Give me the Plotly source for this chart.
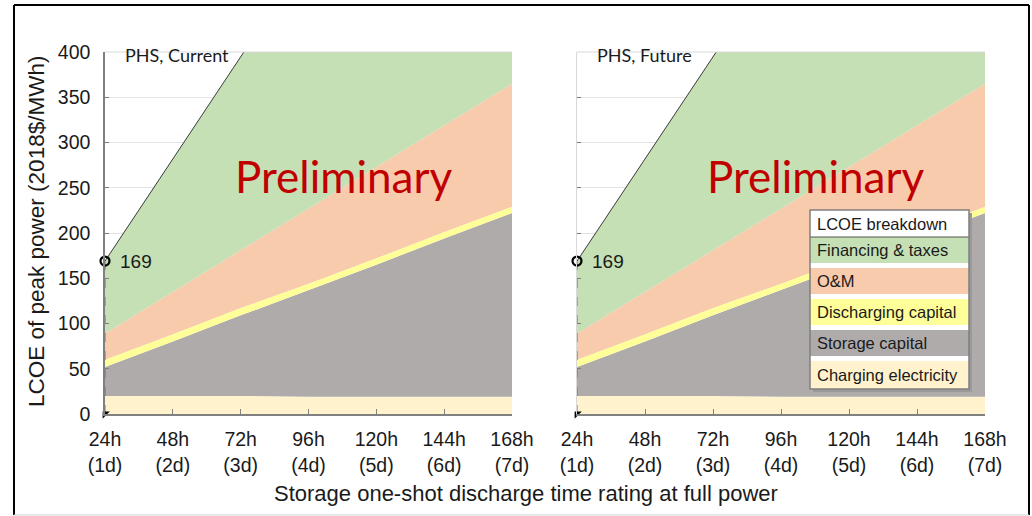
import numpy as np
import plotly.graph_objects as go

# discharge duration (hours) on the x axis
hours = [24, 48, 72, 96, 120, 144, 168]
tick_text = ["24h<br>(1d)", "48h<br>(2d)", "72h<br>(3d)", "96h<br>(4d)",
             "120h<br>(5d)", "144h<br>(6d)", "168h<br>(7d)"]

# LCOE components, 2018$/MWh (both panels look the same)
charging_electricity = [20, 20, 20, 19, 19, 19, 19]
storage_capital = [32, 60, 89, 118, 146, 175, 203]
discharging_capital = [8, 8, 8, 7, 7, 7, 7]
om_cost = [29, 47, 64, 83, 101, 118, 136]
financing_taxes = [80, 147, 214, 281, 348, 415, 481]

panel_titles = ["PHS, Current", "PHS, Future"]

# bottom -> top stacking order
layers = [
    ("Charging electricity", charging_electricity, "#FFF2CC"),
    ("Storage capital", storage_capital, "#AFABAB"),
    ("Discharging capital", discharging_capital, "#FFFF99"),
    ("O&M", om_cost, "#F8CBAD"),
    ("Financing & taxes", financing_taxes, "#C5E0B4"),
]

total = np.sum([v for _, v, _ in layers], axis=0)

W, H = 1032, 516
L, R, T, B = 105, 47, 52, 102
PW, PH = W - L - R, H - T - B


def px(x):
    return (x - L) / PW


def py(y):
    return (H - B - y) / PH


fig = go.Figure()

for i, sfx in enumerate(["", "2"]):
    xa, ya = "x" + sfx, "y" + sfx
    for j, (name, vals, col) in enumerate(layers):
        top = j == len(layers) - 1
        fig.add_trace(go.Scatter(
            x=hours, y=vals, name=name, stackgroup="s" + str(i),
            mode="lines", fillcolor=col,
            line=dict(width=1 if top else 0, color="#3a3a3a" if top else col),
            xaxis=xa, yaxis=ya, showlegend=False, hoverinfo="skip"))
    # dashed drop line from the 1-day value
    fig.add_trace(go.Scatter(
        x=[hours[0], hours[0]], y=[0, total[0]], mode="lines",
        line=dict(color="#6f6f6f", width=1, dash="dash"),
        xaxis=xa, yaxis=ya, showlegend=False, cliponaxis=False))
    fig.add_trace(go.Scatter(
        x=[hours[0]], y=[total[0]], mode="markers",
        marker=dict(symbol="circle-open", size=9, color="black",
                    line=dict(width=2.2, color="black")),
        xaxis=xa, yaxis=ya, showlegend=False, cliponaxis=False))
    fig.add_trace(go.Scatter(
        x=[hours[0]], y=[0], mode="markers",
        marker=dict(symbol="triangle-nw", size=8, color="black"),
        xaxis=xa, yaxis=ya, showlegend=False, cliponaxis=False))
    fig.add_annotation(x=hours[0], y=total[0], xref=xa, yref=ya,
                       text=str(int(total[0])), showarrow=False,
                       xanchor="left", yanchor="middle", xshift=13,
                       font=dict(family="Liberation Sans", size=19, color="#1a1a1a"))

tickfont = dict(family="Liberation Sans", size=19.5, color="#1a1a1a")
xcommon = dict(range=[24, 168], tickmode="array", tickvals=hours, ticktext=tick_text,
               ticks="inside", ticklen=5, tickcolor="#808080", showgrid=False,
               zeroline=False, showline=True, linecolor="#808080", linewidth=1.5,
               tickfont=tickfont, ticklabelstandoff=7)
ycommon = dict(range=[0, 400], dtick=50, showgrid=True, gridcolor="#e3e3e3",
               zeroline=False, showline=True, ticks="inside", ticklen=4,
               tickcolor="#808080", tickfont=tickfont)

fig.update_layout(
    width=W, height=H,
    margin=dict(l=L, r=R, t=T, b=B),
    paper_bgcolor="white", plot_bgcolor="white",
    xaxis=dict(domain=[0, px(512)], anchor="y", **xcommon),
    yaxis=dict(domain=[0, 1], anchor="x", linecolor="#808080", linewidth=1.5,
               ticklabelstandoff=9, **ycommon),
    xaxis2=dict(domain=[px(577), 1], anchor="y2", **xcommon),
    yaxis2=dict(domain=[0, 1], anchor="x2", linecolor="#d9d9d9", linewidth=1,
                showticklabels=False, **ycommon),
)

shapes = []
# panel titles, top border and watermark
for k, xa in enumerate(["x", "x2"]):
    shapes.append(dict(type="line", xref=xa + " domain", yref="paper", x0=0, x1=1, y0=1, y1=1,
                       line=dict(color="#d9d9d9", width=1)))
    fig.add_annotation(x=0.045, y=py(55), xref=xa + " domain", yref="paper",
                       text=panel_titles[k], showarrow=False, xanchor="left", yanchor="middle",
                       font=dict(family="Lato", size=18, color="#1a1a1a"))
    fig.add_annotation(x=0.585, y=py(176), xref=xa + " domain", yref="paper",
                       text="Preliminary", showarrow=False, xanchor="center", yanchor="middle",
                       font=dict(family="Lato", size=44, color="#C00000"))

# axis titles
fig.add_annotation(x=px(37), y=py(232), xref="paper", yref="paper",
                   text="LCOE of peak power (2018$/MWh)", textangle=-90, showarrow=False,
                   xanchor="center", yanchor="middle",
                   font=dict(family="Liberation Sans", size=22.5, color="#1a1a1a"))
fig.add_annotation(x=px(526), y=py(494), xref="paper", yref="paper",
                   text="Storage one-shot discharge time rating at full power",
                   showarrow=False, xanchor="center", yanchor="middle",
                   font=dict(family="Liberation Sans", size=22, color="#1a1a1a"))

# legend box drawn by hand: title row, then one coloured row per component
lx0, lx1, ly0 = px(810), px(969), 210
legfont = dict(family="Liberation Sans", size=16.5, color="#1a1a1a")
shapes += [
    dict(type="rect", xref="paper", yref="paper", x0=lx0 + 3 / PW, x1=lx1 + 3 / PW,
         y0=py(392), y1=py(213), fillcolor="#9a9a9a", line=dict(width=0)),
    dict(type="rect", xref="paper", yref="paper", x0=lx0, x1=lx1,
         y0=py(389), y1=py(ly0), fillcolor="white", line=dict(width=0)),
]
fig.add_annotation(x=lx0 + 5 / PW, y=py(224), xref="paper", yref="paper",
                   text="LCOE breakdown", showarrow=False, xanchor="left", yanchor="middle",
                   font=legfont)
for r, (name, _, col) in enumerate(layers[::-1]):
    top = 237 + 31 * r
    bot = top + (28 if r == len(layers) - 1 else 26)
    shapes.append(dict(type="rect", xref="paper", yref="paper", x0=lx0, x1=lx1,
                       y0=py(bot), y1=py(top), fillcolor=col, line=dict(width=0)))
    fig.add_annotation(x=lx0 + 5 / PW, y=py((top + bot) / 2), xref="paper", yref="paper",
                       text=name, showarrow=False, xanchor="left", yanchor="middle",
                       font=legfont)
shapes += [
    dict(type="line", xref="paper", yref="paper", x0=lx0, x1=lx1, y0=py(237), y1=py(237),
         line=dict(color="#555555", width=1)),
    dict(type="rect", xref="paper", yref="paper", x0=lx0, x1=lx1,
         y0=py(389), y1=py(ly0), line=dict(color="#7f7f7f", width=1.5)),
]

# outer frame of the slide
fx0, fx1, fy0, fy1 = px(14), px(1029), py(515), py(5)
for x0, y0, x1, y1, c in [(fx0, fy0, fx0, fy1, "black"), (fx0, fy1, fx1, fy1, "black"),
                          (fx1, fy1, fx1, fy0, "black"), (fx0, fy0, fx1, fy0, "#d0d0d0")]:
    shapes.append(dict(type="line", xref="paper", yref="paper", x0=x0, y0=y0, x1=x1, y1=y1,
                       line=dict(color=c, width=2 if c == "black" else 1)))

fig.update_layout(shapes=shapes)

fig.write_html("out.html", config={"displayModeBar": False},
               post_script="document.body.style.margin='0';document.body.style.overflow='hidden';")
